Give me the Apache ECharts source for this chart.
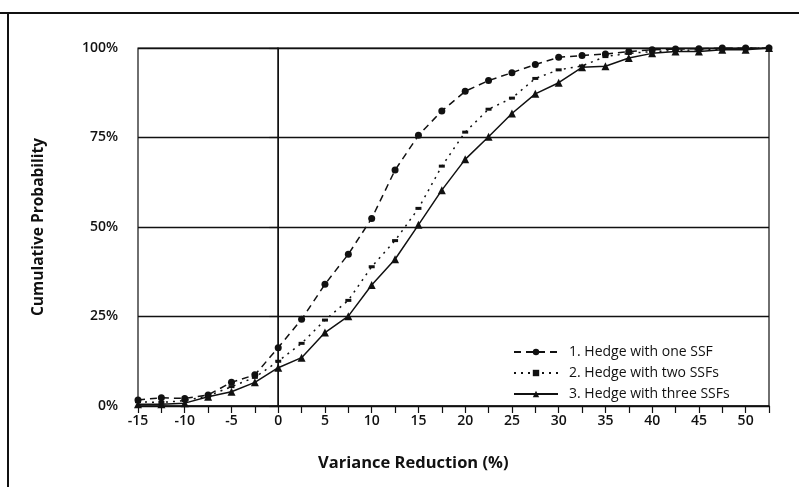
<!DOCTYPE html>
<html>
<head>
<meta charset="utf-8">
<script src="https://cdn.jsdelivr.net/npm/echarts@6/dist/echarts.min.js"></script>
<style>
html,body{margin:0;padding:0;background:#fff;}
#c{width:799px;height:487px;}
</style>
</head>
<body>
<div id="c"></div>
<script>
const xValues = [-15,-12.5,-10,-7.5,-5,-2.5,0,2.5,5,7.5,10,12.5,15,17.5,20,22.5,25,27.5,30,32.5,35,37.5,40,42.5,45,47.5,50,52.5];
const oneSSF = [1.7,2.3,2.1,3.1,6.6,8.7,16.3,24.2,34,42.4,52.4,65.9,75.6,82.4,87.9,90.9,93.1,95.4,97.4,97.9,98.3,99,99.5,99.7,99.8,100,100,100];
const twoSSFs = [1.2,1.0,1.5,2.8,5.4,8,12.5,17.5,24,29.5,38.9,46.2,55.2,67,76.5,82.9,86,91.5,93.9,95,97.6,98.5,99,99.3,99.5,99.7,100,100];
const threeSSFs = [0.5,0.5,0.8,2.6,4,6.6,10.7,13.5,20.5,25.1,33.8,41,50.6,60.3,68.9,75.2,81.7,87.2,90.3,94.6,94.9,97.2,98.5,99,99,99.5,99.5,100];
const seriesNames = ['1. Hedge with one SSF','2. Hedge with two SSFs','3. Hedge with three SSFs'];
const xLabelStep = 5;

const FONT = '"Open Sans", Lato, sans-serif';
const pair = arr => xValues.map((x,i)=>[x,arr[i]]);

const chart = echarts.init(document.getElementById('c'));
chart.setOption({
  animation:false,
  backgroundColor:'#fff',
  textStyle:{fontFamily:FONT,color:'#111'},
  grid:{left:138,right:30,top:48,bottom:81,show:true,borderColor:'#111',borderWidth:1.2,backgroundColor:'transparent'},
  xAxis:{
    type:'value',min:-15,max:52.5,interval:2.5,
    axisLine:{show:true,onZero:false,lineStyle:{color:'#111',width:1.5}},
    axisTick:{show:true,inside:false,length:7,lineStyle:{color:'#111',width:1.2}},
    axisLabel:{margin:8,fontSize:14,fontWeight:600,color:'#111',fontFamily:FONT,
      formatter:v=> (Math.abs(v % xLabelStep) < 1e-9 && v<=50) ? String(v) : ''},
    splitLine:{show:false}
  },
  yAxis:{
    type:'value',min:0,max:100,interval:25,
    name:'Cumulative Probability',nameLocation:'middle',nameRotate:90,nameGap:91,
    nameTextStyle:{fontSize:15.5,fontWeight:'bold',color:'#111',fontFamily:FONT},
    axisLine:{show:true,lineStyle:{color:'#111',width:1.5}},
    axisTick:{show:true,inside:false,length:9,lineStyle:{color:'#111',width:1.2}},
    axisLabel:{margin:20,fontSize:14,fontWeight:600,color:'#111',fontFamily:FONT,formatter:'{value}%'},
    splitLine:{show:true,lineStyle:{color:'#111',width:1.4}}
  },
  legend:{
    orient:'vertical',left:508,top:340,itemWidth:44,itemHeight:8,itemGap:7,
    textStyle:{fontSize:14,color:'#111',fontFamily:FONT,padding:[0,0,0,6]},
    data:seriesNames
  },
  graphic:[
    {type:'line',shape:{x1:0,y1:13,x2:799,y2:13},style:{stroke:'#111',lineWidth:2}},
    {type:'line',shape:{x1:8,y1:13,x2:8,y2:487},style:{stroke:'#111',lineWidth:2}},
    {type:'text',left:318,top:455,style:{text:'Variance Reduction (%)',font:'bold 16.5px '+FONT,fill:'#111'}}
  ],
  series:[
    {name:seriesNames[0],type:'line',data:pair(oneSSF),symbol:'circle',symbolSize:7,
      lineStyle:{color:'#111',width:1.5,type:[7,5]},itemStyle:{color:'#111'},
      markLine:{silent:true,symbol:'none',label:{show:false},lineStyle:{color:'#111',width:1,type:'solid'},data:[{xAxis:0}]}},
    {name:seriesNames[1],type:'line',data:pair(twoSSFs),symbol:'rect',symbolSize:[6,3],
      lineStyle:{color:'#111',width:1.5,type:[2,5]},itemStyle:{color:'#111'}},
    {name:seriesNames[2],type:'line',data:pair(threeSSFs),symbol:'triangle',symbolSize:8,
      lineStyle:{color:'#111',width:1.5,type:'solid'},itemStyle:{color:'#111'}}
  ]
});
</script>
</body>
</html>
